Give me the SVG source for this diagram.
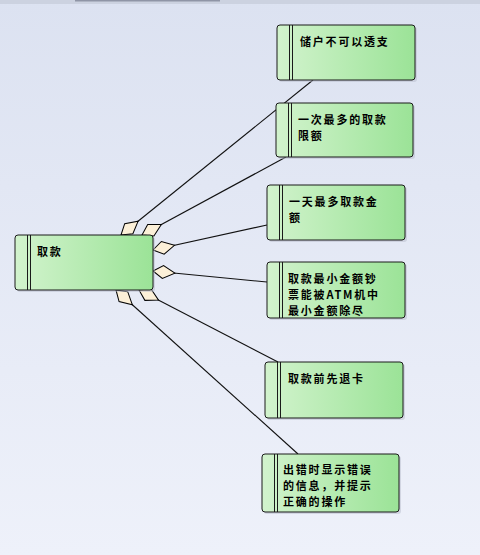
<svg xmlns="http://www.w3.org/2000/svg" width="480" height="555" viewBox="0 0 480 555">
<defs>
<linearGradient id="bg" x1="0" y1="0" x2="0" y2="1">
<stop offset="0" stop-color="#dce2f1"/>
<stop offset="1" stop-color="#eef1fa"/>
</linearGradient>
<linearGradient id="ng" x1="0" y1="0" x2="1" y2="0">
<stop offset="0" stop-color="#d2f3cd"/>
<stop offset="1" stop-color="#9be397"/>
</linearGradient>
<marker id="dia" markerUnits="userSpaceOnUse" markerWidth="26" markerHeight="16" refX="1" refY="8" orient="auto" viewBox="0 0 26 16">
<path d="M1,8 L11,1.5 L23,8 L11,14.5 Z" fill="#fcf0d8" stroke="#000" stroke-width="1"/>
</marker>
<style>
.box{fill:url(#ng);stroke:#1a1a1a;stroke-width:1}
.sh{fill:#b8bccb;opacity:0.5}
.sep{stroke:#1a1a1a;stroke-width:1}
.t{font-family:"Noto Sans CJK SC","Noto Sans",sans-serif;font-size:11px;letter-spacing:1.8px;font-weight:bold;fill:#000}
.c{stroke:#111;stroke-width:1.1;fill:none;marker-start:url(#dia)}
</style>
</defs>
<rect x="0" y="0" width="480" height="555" fill="url(#bg)"/>
<rect x="0" y="0" width="480" height="4" fill="#ccd2e0"/>
<rect x="75" y="0" width="145" height="1.5" fill="#8f95a6"/>
<g id="connectors">
<path class="c" d="M121,235 L313,80"/>
<path class="c" d="M142,235 L286,157"/>
<path class="c" d="M153,250 L267,225"/>
<path class="c" d="M153,271 L267,282"/>
<path class="c" d="M139,290 L278,362"/>
<path class="c" d="M116,290 L298,454"/>
</g>
<g id="node-main">
<rect class="sh" x="17" y="237" width="138" height="55" rx="3"/>
<rect class="box" x="15" y="235" width="138" height="55" rx="3"/>
<line class="sep" x1="27.5" y1="235" x2="27.5" y2="290"/>
<line class="sep" x1="30.5" y1="235" x2="30.5" y2="290"/>
<text class="t" x="37" y="256">取款</text>
</g>
<g id="node-1">
<rect class="sh" x="279" y="27" width="138" height="55" rx="3"/>
<rect class="box" x="277" y="25" width="138" height="55" rx="3"/>
<line class="sep" x1="289.5" y1="25" x2="289.5" y2="80"/>
<line class="sep" x1="292.5" y1="25" x2="292.5" y2="80"/>
<text class="t" x="300" y="46">储户不可以透支</text>
</g>
<g id="node-2">
<rect class="sh" x="278" y="105" width="137" height="54" rx="3"/>
<rect class="box" x="276" y="103" width="137" height="54" rx="3"/>
<line class="sep" x1="288.5" y1="103" x2="288.5" y2="157"/>
<line class="sep" x1="291.5" y1="103" x2="291.5" y2="157"/>
<text class="t" x="298" y="124">一次最多的取款</text>
<text class="t" x="298" y="140">限额</text>
</g>
<g id="node-3">
<rect class="sh" x="269" y="187" width="138" height="55" rx="3"/>
<rect class="box" x="267" y="185" width="138" height="55" rx="3"/>
<line class="sep" x1="279.5" y1="185" x2="279.5" y2="240"/>
<line class="sep" x1="282.5" y1="185" x2="282.5" y2="240"/>
<text class="t" x="289" y="206">一天最多取款金</text>
<text class="t" x="289" y="222">额</text>
</g>
<g id="node-4">
<rect class="sh" x="269" y="264" width="138" height="56" rx="3"/>
<rect class="box" x="267" y="262" width="138" height="56" rx="3"/>
<line class="sep" x1="279.5" y1="262" x2="279.5" y2="318"/>
<line class="sep" x1="282.5" y1="262" x2="282.5" y2="318"/>
<text class="t" x="288" y="283">取款最小金额钞</text>
<text class="t" x="288" y="299">票能被ATM机中</text>
<text class="t" x="288" y="315">最小金额除尽</text>
</g>
<g id="node-5">
<rect class="sh" x="267" y="364" width="138" height="56" rx="3"/>
<rect class="box" x="265" y="362" width="138" height="56" rx="3"/>
<line class="sep" x1="277.5" y1="362" x2="277.5" y2="418"/>
<line class="sep" x1="280.5" y1="362" x2="280.5" y2="418"/>
<text class="t" x="288" y="383">取款前先退卡</text>
</g>
<g id="node-6">
<rect class="sh" x="264" y="456" width="137" height="58" rx="3"/>
<rect class="box" x="262" y="454" width="137" height="58" rx="3"/>
<line class="sep" x1="274.5" y1="454" x2="274.5" y2="512"/>
<line class="sep" x1="277.5" y1="454" x2="277.5" y2="512"/>
<text class="t" x="283" y="474">出错时显示错误</text>
<text class="t" x="283" y="490">的信息，并提示</text>
<text class="t" x="283" y="506">正确的操作</text>
</g>
</svg>
